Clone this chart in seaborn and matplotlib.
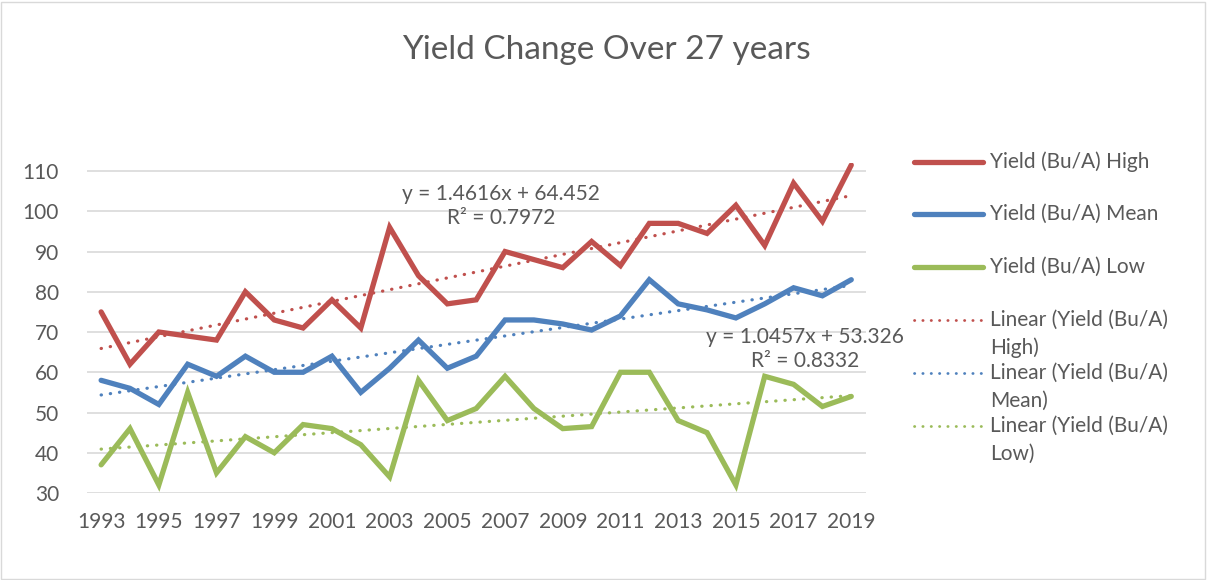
import numpy as np
import pandas as pd
import matplotlib.pyplot as plt
import seaborn as sns
from matplotlib.lines import Line2D
from matplotlib.patches import Rectangle

years = list(range(1993, 2020))
high = [75, 62, 70, 69, 68, 80, 73, 71, 78, 71, 96, 84, 77, 78, 90, 88, 86, 92.5,
        86.5, 97, 97, 94.5, 101.5, 91.5, 107, 97.5, 111.5]
mean = [58, 56, 52, 62, 59, 64, 60, 60, 64, 55, 61, 68, 61, 64, 73, 73, 72, 70.5,
        74, 83, 77, 75.5, 73.5, 77, 81, 79, 83]
low = [37, 46, 32, 55, 35, 44, 40, 47, 46, 42, 34, 58, 48, 51, 59, 51, 46, 46.5,
       60, 60, 48, 45, 32, 59, 57, 51.5, 54]
series_names = ["Yield (Bu/A) High", "Yield (Bu/A) Mean", "Yield (Bu/A) Low"]
trend_names = ["Linear (Yield (Bu/A)\nHigh)", "Linear (Yield (Bu/A)\nMean)",
               "Linear (Yield (Bu/A)\nLow)"]
eq_high = "y = 1.4616x + 64.452\nR² = 0.7972"
eq_mean = "y = 1.0457x + 53.326\nR² = 0.8332"
title = "Yield Change Over 27 years"

colors = ["#C0504D", "#4F81BD", "#9BBB59"]
txt = "#595959"

sns.set_style("white")
plt.rcParams["font.family"] = ["Lato", "DejaVu Sans"]

df = pd.DataFrame({"year": years, series_names[0]: high,
                   series_names[1]: mean, series_names[2]: low})

W, H = 1207, 580
fig = plt.figure(figsize=(W / 100, H / 100), dpi=100)
ax = fig.add_axes([86.7 / W, 1 - 493 / H, 779 / W, 330 / H])

dot = (0, (0.1, 2.8))
for name, c in zip(series_names, colors):
    sns.regplot(data=df, x="year", y=name, ax=ax, scatter=False, ci=None,
                color=c, line_kws={"linestyle": dot, "linewidth": 2.3,
                                   "dash_capstyle": "round"})
for name, c in zip(series_names, colors):
    sns.lineplot(data=df, x="year", y=name, ax=ax, color=c, linewidth=3.8,
                 solid_capstyle="round", solid_joinstyle="miter")

ax.set_xlim(1992.5, 2019.5)
ax.set_ylim(30, 112)
ax.set_yticks(range(30, 111, 10))
ax.set_xticks(years[::2])
ax.grid(axis="y", color="#d9d9d9", linewidth=1.2)
ax.set_axisbelow(True)
for s in ax.spines.values():
    s.set_visible(False)
ax.set_xlabel("")
ax.set_ylabel("")
ax.tick_params(axis="both", length=0, labelsize=15, labelcolor=txt)
ax.tick_params(axis="x", pad=14)
ax.tick_params(axis="y", pad=20)

fig.text(606 / W, 1 - 50 / H, title, ha="center", va="center", fontsize=24, color=txt)
fig.text(501 / W, 1 - 206 / H, eq_high, ha="center", va="center", fontsize=15,
         color=txt, linespacing=1.3)
fig.text(805 / W, 1 - 349 / H, eq_mean, ha="center", va="center", fontsize=15,
         color=txt, linespacing=1.3)

# legend drawn by hand to match Excel's stacking
entries = list(zip(series_names, colors, ["-"] * 3)) + list(zip(trend_names, colors, [dot] * 3))
ys = [162, 214, 267, 320, 373, 426]
for (lab, c, ls), yp in zip(entries, ys):
    y = 1 - yp / H
    if ls == "-":
        fig.add_artist(Line2D([914 / W, 983 / W], [y, y], color=c, linewidth=3.8,
                              solid_capstyle="round"))
    else:
        fig.add_artist(Line2D([914 / W, 983 / W], [y, y], color=c, linewidth=2.0,
                              linestyle=(0, (0.1, 2.9)), dash_capstyle="round"))
    for k, part in enumerate(lab.split("\n")):
        fig.text(990 / W, 1 - (yp + 28 * k) / H, part, ha="left", va="center",
                 fontsize=15, color=txt)

fig.add_artist(Rectangle((1 / W, 1 / H), 1 - 3 / W, 1 - 3 / H, transform=fig.transFigure,
                         fill=False, edgecolor="#d9d9d9", linewidth=1))

fig.savefig("out.png", dpi=100)
